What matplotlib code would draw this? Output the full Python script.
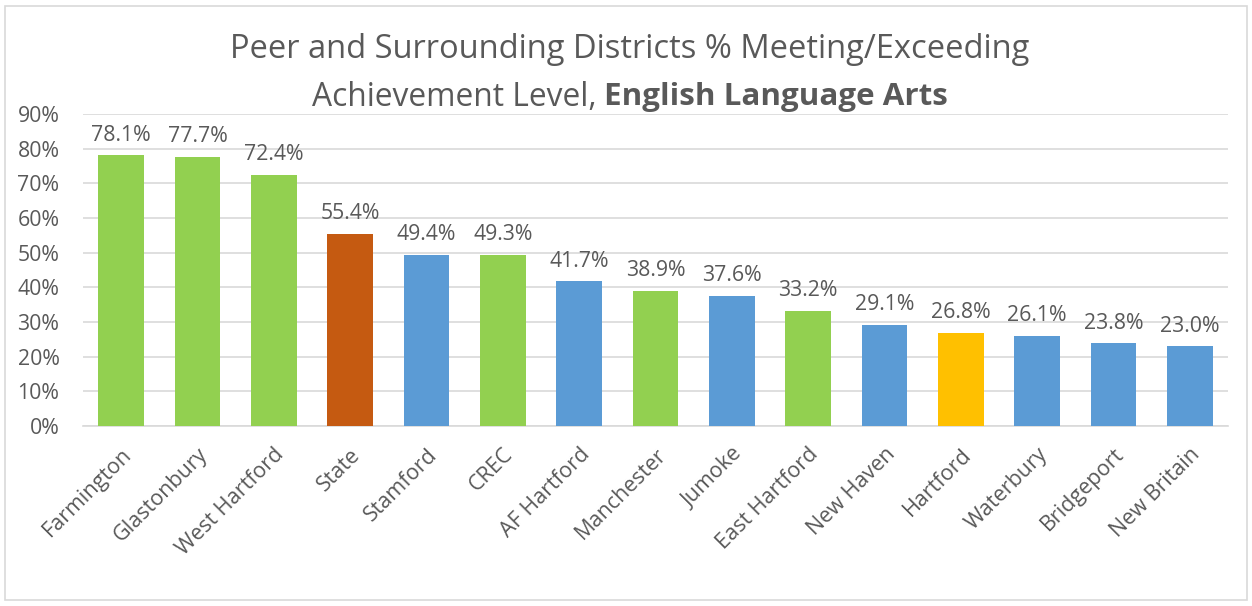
import matplotlib
matplotlib.use("Agg")
import matplotlib.pyplot as plt

# districts in chart order, % meeting/exceeding
districts = ["Farmington", "Glastonbury", "West Hartford", "State", "Stamford", "CREC",
             "AF Hartford", "Manchester", "Jumoke", "East Hartford", "New Haven",
             "Hartford", "Waterbury", "Bridgeport", "New Britain"]
pct = [78.1, 77.7, 72.4, 55.4, 49.4, 49.3, 41.7, 38.9, 37.6, 33.2, 29.1, 26.8, 26.1, 23.8, 23.0]
groups = ["peer", "peer", "peer", "state", "surr", "peer", "surr", "peer", "surr", "peer",
          "surr", "hartford", "surr", "surr", "surr"]
yticks = [0, 10, 20, 30, 40, 50, 60, 70, 80, 90]

group_colors = {"peer": "#92D050", "state": "#C55A11", "surr": "#5B9BD5", "hartford": "#FFC000"}
text_col = "#595959"
grid_col = "#D9D9D9"

plt.rcParams["font.family"] = ["Open Sans", "DejaVu Sans"]

fig = plt.figure(figsize=(12.52, 6.06), dpi=100)
ax = fig.add_axes([83 / 1252, 1 - 426 / 606, (1228 - 83) / 1252, (426 - 114) / 606])

x = list(range(len(districts)))
bars = ax.bar(x, pct, width=0.6, color=[group_colors[g] for g in groups], zorder=3)

for xi, v in zip(x, pct):
    ax.annotate(f"{v:.1f}%", (xi, v), xytext=(0, 7), textcoords="offset points",
                ha="center", va="bottom", fontsize=15.3, color=text_col)

ax.set_xlim(-0.5, len(districts) - 0.5)
ax.set_ylim(0, 90)
ax.set_yticks(yticks)
ax.set_yticklabels([f"{t}%" for t in yticks], fontsize=15.3, color=text_col)
ax.yaxis.grid(True, color=grid_col, lw=1.2, zorder=0)
ax.set_xticks(x)
ax.set_xticklabels(districts, rotation=45, ha="right", rotation_mode="anchor",
                   fontsize=15.5, color=text_col)
ax.tick_params(axis="x", length=0, pad=13)
ax.tick_params(axis="y", length=0, pad=17)
for s in ["top", "right", "left"]:
    ax.spines[s].set_visible(False)
ax.spines["bottom"].set_color(grid_col)
ax.spines["bottom"].set_linewidth(1.2)

# title, second line has a bold part
fig.text(630 / 1252, 1 - 50 / 606, "Peer and Surrounding Districts % Meeting/Exceeding",
         ha="center", va="center", fontsize=23.5, color=text_col)
t1 = fig.text(0, 1 - 97 / 606, "Achievement Level, ", ha="left", va="center",
              fontsize=22.9, color=text_col)
t2 = fig.text(0, 1 - 97 / 606, "English Language Arts", ha="left", va="center",
              fontsize=22.6, color=text_col, fontweight="bold")
fig.canvas.draw()
r = fig.canvas.get_renderer()
w1 = t1.get_window_extent(r).width
w2 = t2.get_window_extent(r).width
start = 630 - (w1 + w2) / 2
t1.set_x(start / 1252)
t2.set_x((start + w1) / 1252)

# chart border
fig.patches.append(plt.Rectangle((5 / 1252, 6 / 606), 1242 / 1252, 594 / 606,
                                 transform=fig.transFigure, fill=False,
                                 edgecolor=grid_col, lw=1.2))

fig.savefig("out.png", dpi=100, facecolor="white")
